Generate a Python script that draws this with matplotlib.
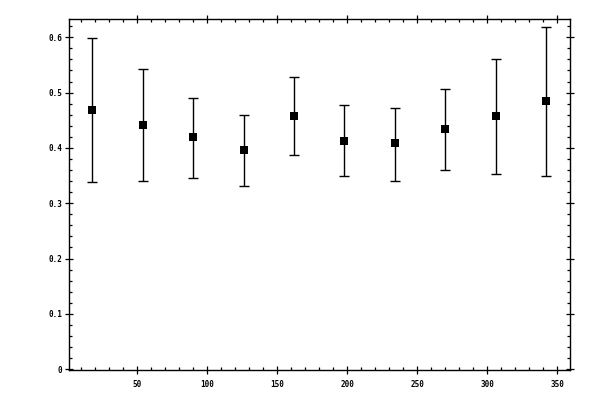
import matplotlib
matplotlib.use("Agg")
import matplotlib.pyplot as plt
from matplotlib.ticker import MultipleLocator, FormatStrFormatter

x = [18, 54, 90, 126, 162, 198, 234, 270, 306, 342]
y = [0.468, 0.441, 0.419, 0.396, 0.457, 0.412, 0.409, 0.4335, 0.457, 0.484]
y_low = [0.338, 0.340, 0.345, 0.332, 0.388, 0.349, 0.341, 0.361, 0.352, 0.350]
y_high = [0.598, 0.543, 0.491, 0.459, 0.528, 0.477, 0.473, 0.506, 0.560, 0.618]

err_lo = [a - b for a, b in zip(y, y_low)]
err_hi = [b - a for a, b in zip(y, y_high)]

fig = plt.figure(figsize=(6, 4), dpi=100)
ax = fig.add_axes([0.1155, 0.0743, 0.835, 0.8775])
ax.errorbar(x, y, yerr=[err_lo, err_hi], fmt='none', ecolor='black',
            capsize=3.6, elinewidth=1.0, capthick=1.0)
ax.plot(x, y, 's', color='black', markersize=5.2, markeredgewidth=0)

ax.set_xlim(1.5, 359.3)
ax.set_ylim(-0.002, 0.6326)
ax.xaxis.set_major_locator(MultipleLocator(50))
ax.xaxis.set_minor_locator(MultipleLocator(10))
ax.yaxis.set_major_locator(MultipleLocator(0.1))
ax.yaxis.set_minor_locator(MultipleLocator(0.02))
ax.yaxis.set_major_formatter(FormatStrFormatter('%g'))

for s in ax.spines.values():
    s.set_linewidth(1.0)

ax.tick_params(which='major', direction='inout', length=5.5, width=0.9,
               top=True, right=True, labelsize=5.5, pad=2.5)
ax.tick_params(which='minor', direction='in', length=2.2, width=0.9,
               top=True, right=True)
ax.tick_params(axis='x', which='major', pad=4)
for lab in ax.get_xticklabels() + ax.get_yticklabels():
    lab.set_family('DejaVu Sans Mono')
    lab.set_weight('bold')

fig.savefig('out.png', dpi=100)
